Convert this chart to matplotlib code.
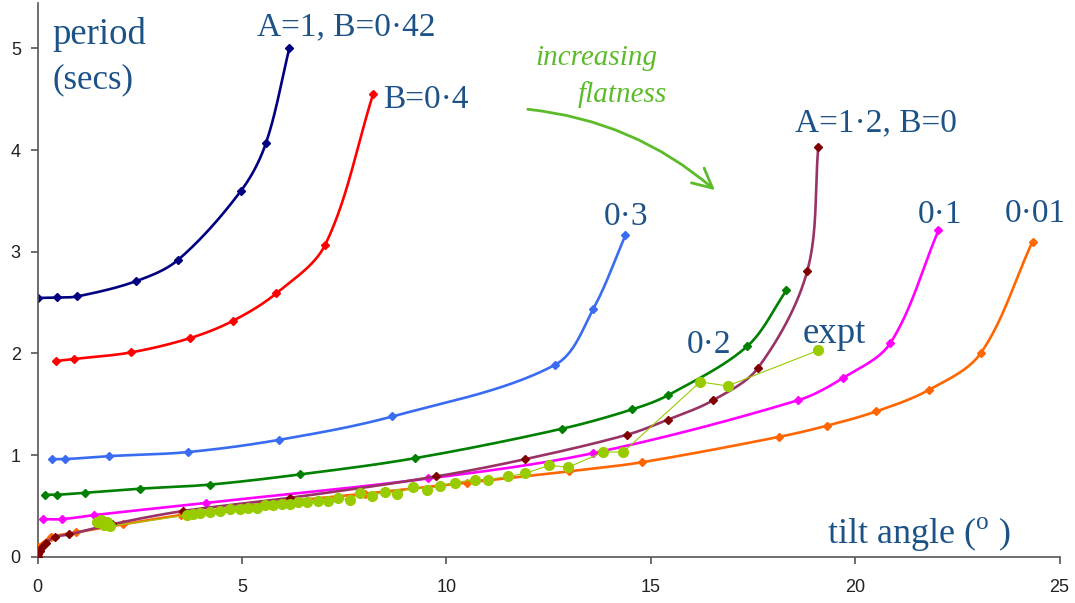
import numpy as np
import matplotlib
matplotlib.use("Agg")
import matplotlib.pyplot as plt
from matplotlib.patches import FancyArrowPatch

# ---- model curves: tilt angle (deg) vs period (s) ----
b042_x = [0.0, 0.48, 0.97, 2.41, 3.44, 4.98, 5.59, 6.16]
b042_y = [2.545, 2.55, 2.56, 2.71, 2.92, 3.60, 4.07, 5.00]

b040_x = [0.45, 0.89, 2.29, 3.73, 4.78, 5.84, 7.04, 8.21]
b040_y = [1.925, 1.945, 2.01, 2.15, 2.32, 2.59, 3.07, 4.55]

b030_x = [0.35, 0.67, 1.75, 3.68, 5.91, 8.68, 12.67, 13.60, 14.38]
b030_y = [0.96, 0.96, 0.99, 1.03, 1.15, 1.38, 1.89, 2.44, 3.16]

b020_x = [0.18, 0.48, 1.16, 2.51, 4.22, 6.42, 9.24, 12.84, 14.55, 15.43, 17.36, 18.32]
b020_y = [0.61, 0.61, 0.63, 0.67, 0.71, 0.81, 0.97, 1.26, 1.45, 1.59, 2.07, 2.62]

b010_x = [0.13, 0.60, 1.38, 4.12, 9.56, 13.60, 18.61, 19.71, 20.86, 22.04]
b010_y = [0.37, 0.37, 0.41, 0.53, 0.77, 1.02, 1.54, 1.76, 2.10, 3.21]

b001_x = [0.0, 0.32, 0.95, 2.10, 3.50, 5.50, 8.00, 10.50, 13.00, 14.79, 18.15, 19.32, 20.52, 21.80, 23.07, 24.34]
b001_y = [0.10, 0.19, 0.24, 0.32, 0.41, 0.52, 0.62, 0.73, 0.84, 0.93, 1.18, 1.29, 1.43, 1.64, 2.00, 3.10]

b000_x = [0.0, 0.02, 0.05, 0.10, 0.21, 0.43, 0.77, 1.82, 3.56, 6.18, 9.75, 11.93, 14.42, 15.43, 16.53, 17.63, 18.83, 19.10]
b000_y = [0.0, 0.03, 0.06, 0.10, 0.14, 0.195, 0.22, 0.32, 0.45, 0.58, 0.79, 0.96, 1.20, 1.35, 1.54, 1.86, 2.81, 4.03]

# ---- measured points ----
expt_x = [1.45, 1.55, 1.62, 1.70, 1.78, 3.66, 3.80, 3.98, 4.22, 4.47, 4.71, 4.96, 5.15, 5.37,
          5.57, 5.76, 5.98, 6.18, 6.38, 6.60, 6.87, 7.11, 7.35, 7.65, 7.89, 8.19, 8.50, 8.80,
          9.19, 9.53, 9.85, 10.22, 10.71, 11.03, 11.51, 11.93, 12.52, 12.98, 13.84, 14.33,
          16.21, 16.88, 19.10]
expt_y = [0.34, 0.36, 0.31, 0.34, 0.30, 0.41, 0.42, 0.43, 0.44, 0.45, 0.47, 0.47, 0.48, 0.48,
          0.51, 0.51, 0.52, 0.52, 0.54, 0.54, 0.55, 0.55, 0.58, 0.56, 0.63, 0.60, 0.64, 0.62,
          0.69, 0.66, 0.70, 0.73, 0.76, 0.76, 0.79, 0.82, 0.90, 0.88, 1.03, 1.03,
          1.72, 1.68, 2.03]

x_ticks = [0, 5, 10, 15, 20, 25]
y_ticks = [0, 1, 2, 3, 4, 5]

W, H = 1075, 603
TEXT_BLUE = "#1d5287"
SERIF = "Liberation Serif"

plt.rcParams["mathtext.fontset"] = "custom"
plt.rcParams["mathtext.rm"] = SERIF

# rough screen aspect of one data unit on each axis, used for the spline metric
SX, SY = 40.86, 101.7


def smooth(xs, ys, n=30):
    """Chord-length Catmull-Rom curve through every point."""
    p = np.column_stack([np.asarray(xs, float) * SX, np.asarray(ys, float) * SY])
    if len(p) < 3:
        return np.asarray(xs), np.asarray(ys)
    k = len(p)
    d = np.linalg.norm(np.diff(p, axis=0), axis=1)
    d = np.maximum(d, 1e-9)
    tang = np.zeros_like(p)
    for i in range(k):
        if i == 0:
            tang[i] = (p[1] - p[0]) / d[0]
        elif i == k - 1:
            tang[i] = (p[-1] - p[-2]) / d[-1]
        else:
            tang[i] = (p[i + 1] - p[i - 1]) / (d[i - 1] + d[i])
    out = [p[0]]
    t = np.linspace(0, 1, n)[1:, None]
    for i in range(k - 1):
        p1, p2 = p[i], p[i + 1]
        c1 = p1 + tang[i] * d[i] / 3.0
        c2 = p2 - tang[i + 1] * d[i] / 3.0
        seg = ((1 - t) ** 3) * p1 + 3 * ((1 - t) ** 2) * t * c1 + 3 * (1 - t) * t ** 2 * c2 + t ** 3 * p2
        out.extend(seg)
    out = np.array(out)
    return out[:, 0] / SX, out[:, 1] / SY


fig = plt.figure(figsize=(W / 100, H / 100), dpi=100)
ax = fig.add_axes([37.5 / W, 46.2 / H, (1059.5 - 37.5) / W, 5.45 * 101.7 / H])

series = [
    (b042_x, b042_y, "#000080", "#000080"),
    (b040_x, b040_y, "#ff0000", "#ff0000"),
    (b030_x, b030_y, "#3a6cf2", "#3a6cf2"),
    (b020_x, b020_y, "#008000", "#008000"),
    (b010_x, b010_y, "#ff00ff", "#ff00ff"),
    (b001_x, b001_y, "#ff6600", "#ff6600"),
    (b000_x, b000_y, "#993366", "#800000"),
]
for i, (xs, ys, lc, mc) in enumerate(series):
    sx, sy = smooth(xs, ys)
    ax.plot(sx, sy, color=lc, lw=1.9, zorder=2 + i * 0.1, solid_capstyle="round")
    ax.plot(xs, ys, ls="none", marker="D", ms=4.2, color=mc, mec=mc, zorder=2.05 + i * 0.1)

ax.plot(expt_x, expt_y, color="#99cc00", lw=0.8, marker="o", ms=7,
        mfc="#99cc00", mec="#99cc00", zorder=3)

ax.set_xlim(0, 25)
ax.set_ylim(0, 5.45)
ax.set_xticks(x_ticks)
ax.set_yticks(y_ticks)
ax.set_xticklabels([str(v) for v in x_ticks])
ax.set_yticklabels([str(v) for v in y_ticks])
for s in ("top", "right"):
    ax.spines[s].set_visible(False)
for s in ("left", "bottom"):
    ax.spines[s].set_color("#555555")
    ax.spines[s].set_linewidth(1.2)
ax.tick_params(axis="both", direction="out", length=5, width=1.2, color="#555555",
               labelsize=13, labelcolor="#222222")
ax.tick_params(axis="x", pad=11)
ax.tick_params(axis="y", pad=7)
for lab in ax.get_xticklabels() + ax.get_yticklabels():
    lab.set_fontfamily("Liberation Sans")


def label(px, py, s, size=24, **kw):
    kw.setdefault("color", TEXT_BLUE)
    kw.setdefault("family", SERIF)
    fig.text(px / W, 1 - py / H, s, fontsize=size, ha="left", va="baseline", **kw)


label(52, 44, "period", size=26.5)
label(52, 88, "(secs)", size=25)
label(257, 35, "A=1, B=0·42")
label(383, 108, "B=0·4")
label(604, 225, "0·3")
label(795, 131, "A=1·2, B=0")
label(918, 223, "0·1")
label(1005, 222, "0·01")
label(687, 353, "0·2")
label(803, 343, "expt", size=26.5)
label(827, 543, "tilt angle ($^{\\mathrm{o}}$ )", size=26)

GREEN = "#5cbb2a"
label(535, 65, "increasing", size=21, color=GREEN, style="italic")
label(578, 102, "flatness", size=21, color=GREEN, style="italic")

arrow = FancyArrowPatch((525 / W, 1 - 109 / H), (717 / W, 1 - 192 / H),
                        transform=fig.transFigure,
                        connectionstyle="arc3,rad=-0.16",
                        arrowstyle="->,head_length=0.7,head_width=0.35",
                        mutation_scale=20, color=GREEN, lw=2.0)
fig.add_artist(arrow)

fig.savefig("out.png", dpi=100)
